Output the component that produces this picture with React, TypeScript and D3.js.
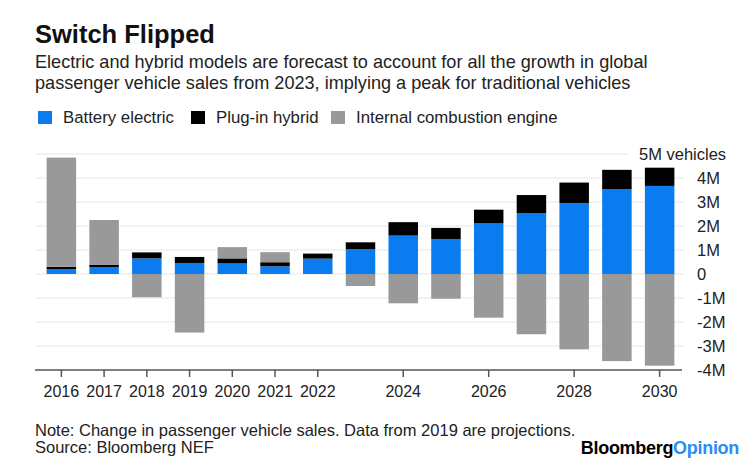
import React from 'react';
import * as d3 from 'd3';

// change in passenger vehicle sales, millions
const years = ['2016', '2017', '2018', '2019', '2020', '2021', '2022', '2023', '2024', '2025', '2026', '2027', '2028', '2029', '2030'];
const battery = [0.2, 0.28, 0.65, 0.46, 0.44, 0.32, 0.64, 1.03, 1.6, 1.46, 2.11, 2.54, 2.96, 3.53, 3.67];
const plugin = [0.1, 0.11, 0.25, 0.25, 0.21, 0.17, 0.21, 0.29, 0.56, 0.46, 0.57, 0.75, 0.85, 0.81, 0.76];
const combustion = [4.55, 1.86, -0.97, -2.44, 0.47, 0.42, 0, -0.5, -1.22, -1.03, -1.82, -2.51, -3.14, -3.63, -3.82];

const yTicks = [-4, -3, -2, -1, 0, 1, 2, 3, 4, 5];
const xLabels = ['2016', '2017', '2018', '2019', '2020', '2021', '2022', '2024', '2026', '2028', '2030'];

const legendItems = [
  { label: 'Battery electric', color: '#0a7cf0' },
  { label: 'Plug-in hybrid', color: '#000000' },
  { label: 'Internal combustion engine', color: '#999999' },
];

const FONT = '"Liberation Sans", Arial, sans-serif';

const width = 753;
const height = 474;

const fmtTick = (v: number) => (v === 0 ? '0' : v === 5 ? '5M vehicles' : `${v}M`);

export default function App() {
  const x = d3.scaleBand<string>()
    .domain(years)
    .range([40, 681])
    .paddingInner(0.31)
    .paddingOuter(0.155);

  const y = d3.scaleLinear().domain([-4, 5]).range([370, 154]);

  const bars = years.map((yr, i) => {
    const b = battery[i];
    const p = plugin[i];
    const c = combustion[i];
    const segs = [
      { y0: 0, y1: b, color: legendItems[0].color },
      { y0: b, y1: b + p, color: legendItems[1].color },
      c >= 0
        ? { y0: b + p, y1: b + p + c, color: legendItems[2].color }
        : { y0: c, y1: 0, color: legendItems[2].color },
    ];
    return { yr, segs };
  });

  return (
    <svg
      width={width}
      height={height}
      style={{ position: 'absolute', left: 0, top: 0, background: '#fff', fontFamily: FONT }}
    >
      <text x={35} y={43} fontSize={25.5} fontWeight="bold" fill="#111">Switch Flipped</text>
      <text x={35} y={68} fontSize={18.1} fill="#222">
        Electric and hybrid models are forecast to account for all the growth in global
      </text>
      <text x={35} y={89} fontSize={18.1} fill="#222">
        passenger vehicle sales from 2023, implying a peak for traditional vehicles
      </text>

      {/* legend */}
      {(() => {
        const xs = [38, 191, 331];
        return legendItems.map((d, i) => (
          <g key={d.label} transform={`translate(${xs[i]},111)`}>
            <rect width={14} height={13} fill={d.color} />
            <text x={25} y={12} fontSize={16.8} fill="#222">{d.label}</text>
          </g>
        ));
      })()}

      {/* gridlines */}
      {yTicks.filter(t => t > -4).map(t => (
        <line
          key={t}
          x1={37}
          x2={t === 5 ? 627 : 683}
          y1={y(t)}
          y2={y(t)}
          stroke="#e6e6e6"
          strokeWidth={1}
        />
      ))}

      {/* bars */}
      {bars.map(bar => (
        <g key={bar.yr}>
          {bar.segs.filter(s => s.y1 - s.y0 > 0).map((s, j) => (
            <rect
              key={j}
              x={x(bar.yr)}
              width={x.bandwidth()}
              y={y(s.y1)}
              height={y(s.y0) - y(s.y1)}
              fill={s.color}
            />
          ))}
        </g>
      ))}

      {/* x axis */}
      <line x1={35} x2={682} y1={y(-4)} y2={y(-4)} stroke="#555" strokeWidth={1.5} />
      {xLabels.map(l => {
        const cx = (x(l) ?? 0) + x.bandwidth() / 2;
        return (
          <g key={l}>
            <line x1={cx} x2={cx} y1={y(-4)} y2={y(-4) + 7} stroke="#555" strokeWidth={1.5} />
            <text x={cx} y={397} fontSize={16} textAnchor="middle" fill="#222">{l}</text>
          </g>
        );
      })}

      {/* y labels */}
      {yTicks.map(t => (
        <text
          key={t}
          x={t === 5 ? 639 : 697}
          y={y(t)}
          dy="0.35em"
          fontSize={16.5}
          fill="#222"
        >
          {fmtTick(t)}
        </text>
      ))}

      {/* footer */}
      <text x={35} y={436} fontSize={16.5} fill="#222">
        Note: Change in passenger vehicle sales. Data from 2019 are projections.
      </text>
      <text x={35} y={453} fontSize={16.5} fill="#222">Source: Bloomberg NEF</text>
      <text x={739} y={454} fontSize={18} fontWeight="bold" textAnchor="end" letterSpacing={-0.3}>
        <tspan fill="#000">Bloomberg</tspan>
        <tspan fill="#2a8cf5">Opinion</tspan>
      </text>
    </svg>
  );
}
